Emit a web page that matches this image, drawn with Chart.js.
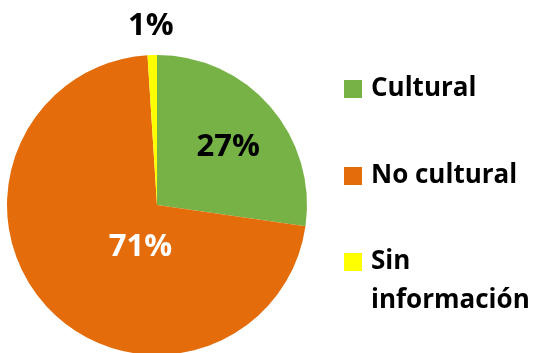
<!DOCTYPE html>
<html>
<head>
<meta charset="utf-8">
<script src="https://cdn.jsdelivr.net/npm/chart.js@4/dist/chart.umd.min.js"></script>
<style>
  html, body { margin: 0; padding: 0; background: #fff; overflow: hidden; }
  #wrap { width: 533px; height: 420px; }
</style>
</head>
<body>
<div id="wrap"><canvas id="pieChart" width="533" height="420"></canvas></div>
<script>
// categories and shares (percent)
const categories = ['Cultural', 'No cultural', ['Sin', 'información']];
const shares = [27, 71, 1];
const sliceColors = ['#77B246', '#E46C0A', '#FFFF00'];

// where each percentage sits: t = fraction along the slice, r = fraction of radius
const labelSpots = [
    { t: 0.52, r: 0.61, color: '#000000' },
    { t: 0.40, r: 0.30, color: '#FFFFFF' },
    { t: 0.45, r: 1.19, color: '#000000' }
];

const FONT = '"Open Sans", "DejaVu Sans", sans-serif';

const percentLabels = {
    id: 'percentLabels',
    afterDatasetsDraw(chart) {
        const ctx = chart.ctx;
        const meta = chart.getDatasetMeta(0);
        const values = chart.data.datasets[0].data;
        ctx.save();
        ctx.font = 'bold 31px ' + FONT;
        ctx.textAlign = 'center';
        ctx.textBaseline = 'middle';
        meta.data.forEach((arc, i) => {
            const p = arc.getProps(['x', 'y', 'startAngle', 'endAngle', 'outerRadius'], true);
            const spot = labelSpots[i];
            const a = p.startAngle + spot.t * (p.endAngle - p.startAngle);
            const d = spot.r * p.outerRadius;
            ctx.fillStyle = spot.color;
            ctx.fillText(values[i] + '%', p.x + Math.cos(a) * d, p.y + Math.sin(a) * d);
        });
        ctx.restore();
    }
};

// legend on the right: square swatch + bold text, wraps the last entry
const sideLegend = {
    id: 'sideLegend',
    afterDraw(chart) {
        const ctx = chart.ctx;
        const colors = chart.data.datasets[0].backgroundColor;
        const boxX = 344, box = 18, textX = 371;
        const rowY = [89, 176, 262];
        const lineGap = 39;
        ctx.save();
        ctx.font = 'bold 26px ' + FONT;
        ctx.textAlign = 'left';
        ctx.textBaseline = 'middle';
        chart.data.labels.forEach((label, i) => {
            const y = rowY[i];
            ctx.fillStyle = colors[i];
            ctx.fillRect(boxX, y - box / 2, box, box);
            ctx.fillStyle = '#000';
            const lines = Array.isArray(label) ? label : [label];
            lines.forEach((ln, k) => ctx.fillText(ln, textX, y + k * lineGap));
        });
        ctx.restore();
    }
};

new Chart(document.getElementById('pieChart'), {
    type: 'pie',
    data: {
        labels: categories,
        datasets: [{
            data: shares,
            backgroundColor: sliceColors,
            borderWidth: 0
        }]
    },
    options: {
        responsive: false,
        animation: false,
        layout: { padding: { left: 7, top: 55, right: 226, bottom: 65 } },
        plugins: {
            legend: { display: false },
            tooltip: { enabled: false }
        }
    },
    plugins: [percentLabels, sideLegend]
});
</script>
</body>
</html>
